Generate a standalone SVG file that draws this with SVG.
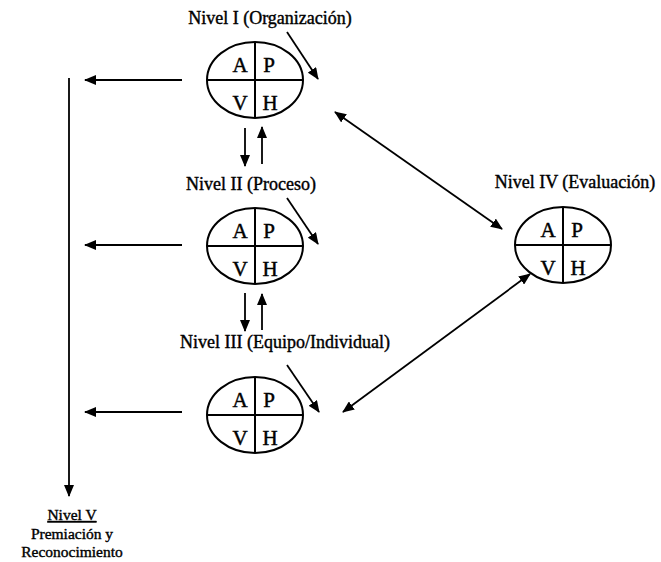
<svg xmlns="http://www.w3.org/2000/svg" width="661" height="562" viewBox="0 0 661 562">
  <style>
    .lbl { font-family: "Liberation Serif", "Times New Roman", serif; font-size: 18px; fill: #000; stroke: #000; stroke-width: 0.4px; }
    .sub { font-size: 15.5px; }
    .q { font-family: "Liberation Serif", "Times New Roman", serif; font-size: 21px; fill: #000; stroke: #000; stroke-width: 0.45px; text-anchor: middle; }
    .shape { fill: none; stroke: #000; stroke-width: 2; }
    .ln { fill: none; stroke: #000; stroke-width: 1.8; }
  </style>
  <defs>
    <marker id="head" viewBox="0 0 12 10" refX="11" refY="5" markerWidth="12" markerHeight="10" markerUnits="userSpaceOnUse" orient="auto-start-reverse">
      <path d="M0,0 L12,5 L0,10 z" fill="#000"/>
    </marker>
    <!-- reusable A/P/V/H quadrant ellipse, centered at origin -->
    <g id="apvh">
      <ellipse cx="0" cy="0" rx="48" ry="38" class="shape"/>
      <line x1="-48" y1="0" x2="48" y2="0" class="shape"/>
      <line x1="0" y1="-38" x2="0" y2="38" class="shape"/>
      <text x="-15" y="-8" class="q">A</text>
      <text x="14" y="-8" class="q">P</text>
      <text x="-15" y="30" class="q">V</text>
      <text x="15" y="30" class="q">H</text>
    </g>
  </defs>

  <g id="nivel1">
    <text x="270" y="24" class="lbl" text-anchor="middle">Nivel I (Organización)</text>
    <use href="#apvh" x="255" y="80"/>
  </g>

  <g id="nivel2">
    <text x="251" y="190" class="lbl" text-anchor="middle">Nivel II (Proceso)</text>
    <use href="#apvh" x="255" y="246"/>
  </g>

  <g id="nivel3">
    <text x="285" y="348" class="lbl" text-anchor="middle">Nivel III (Equipo/Individual)</text>
    <use href="#apvh" x="255" y="415"/>
  </g>

  <g id="nivel4">
    <text x="575" y="188" class="lbl" text-anchor="middle">Nivel IV (Evaluación)</text>
    <use href="#apvh" x="563" y="245"/>
  </g>

  <g id="nivel5">
    <text x="72" y="520" class="lbl sub" text-anchor="middle" text-decoration="underline">Nivel V</text>
    <text x="72" y="538.5" class="lbl sub" text-anchor="middle">Premiación y</text>
    <text x="72" y="557" class="lbl sub" text-anchor="middle">Reconocimiento</text>
  </g>

  <g id="connectors">
    <!-- outputs to the left -->
    <line x1="182" y1="80" x2="85" y2="80" class="ln" marker-end="url(#head)"/>
    <line x1="182" y1="245" x2="85" y2="245" class="ln" marker-end="url(#head)"/>
    <line x1="182" y1="412" x2="85" y2="412" class="ln" marker-end="url(#head)"/>
    <!-- collector down to level V -->
    <line x1="69" y1="78" x2="69" y2="496" class="ln" marker-end="url(#head)"/>
    <!-- between levels I and II -->
    <line x1="245" y1="128" x2="245" y2="166" class="ln" marker-end="url(#head)"/>
    <line x1="262" y1="164" x2="262" y2="127" class="ln" marker-end="url(#head)"/>
    <!-- between levels II and III -->
    <line x1="245" y1="293" x2="245" y2="331" class="ln" marker-end="url(#head)"/>
    <line x1="262" y1="330" x2="262" y2="294" class="ln" marker-end="url(#head)"/>
    <!-- short diagonal inputs -->
    <line x1="287" y1="32" x2="318" y2="79" class="ln" marker-end="url(#head)"/>
    <line x1="287" y1="198" x2="318" y2="244" class="ln" marker-end="url(#head)"/>
    <line x1="287" y1="365" x2="319" y2="412" class="ln" marker-end="url(#head)"/>
    <!-- links with evaluation -->
    <line x1="335" y1="112" x2="502" y2="229" class="ln" marker-start="url(#head)" marker-end="url(#head)"/>
    <line x1="343" y1="412" x2="530" y2="274" class="ln" marker-start="url(#head)" marker-end="url(#head)"/>
  </g>
</svg>
